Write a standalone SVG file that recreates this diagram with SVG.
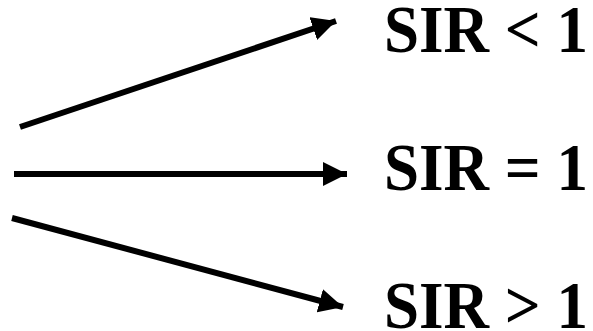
<svg xmlns="http://www.w3.org/2000/svg" width="593" height="331" viewBox="0 0 593 331">
<defs>
<marker id="ah" viewBox="0 0 24 24" refX="24" refY="12" markerWidth="24" markerHeight="24" markerUnits="userSpaceOnUse" orient="auto">
<path d="M0,0 L24,12 L0,24 Z" fill="#000"/>
</marker>
</defs>
<style>
.c{stroke:#000;stroke-width:6;fill:none}
.t{font-family:"Liberation Serif","Times New Roman",serif;font-weight:bold;font-size:68px;fill:#000}
</style>
<rect width="593" height="331" fill="#fff"/>
<g id="connectors">
<line class="c" x1="20" y1="127" x2="336" y2="21" marker-end="url(#ah)"/>
<line class="c" x1="14" y1="174" x2="347" y2="174" marker-end="url(#ah)"/>
<line class="c" x1="12" y1="218" x2="343" y2="307" marker-end="url(#ah)"/>
</g>
<g id="n1"><text class="t" x="384" y="52" textLength="204" lengthAdjust="spacingAndGlyphs">SIR &lt; 1</text></g>
<g id="n2"><text class="t" x="384" y="190" textLength="204" lengthAdjust="spacingAndGlyphs">SIR = 1</text></g>
<g id="n3"><text class="t" x="384" y="328" textLength="204" lengthAdjust="spacingAndGlyphs">SIR &gt; 1</text></g>
</svg>
